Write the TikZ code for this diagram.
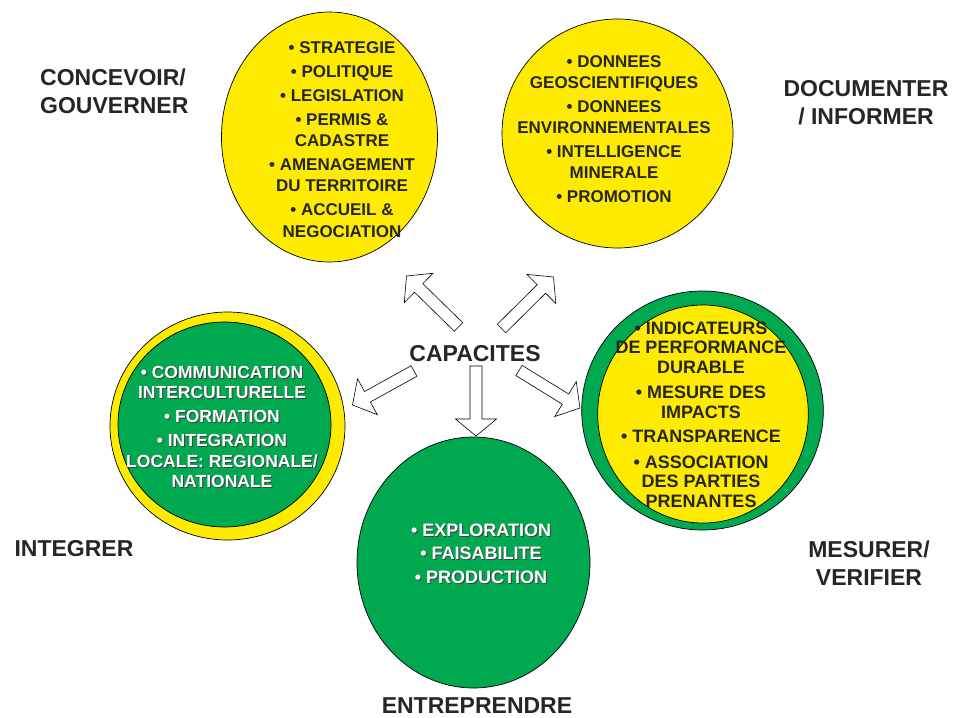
\documentclass[tikz,border=0pt]{standalone}
\usepackage{fontspec}
\setmainfont{Liberation Sans}
\usetikzlibrary{calc,shapes.geometric}

\definecolor{capyellow}{RGB}{255,235,0}
\definecolor{capgreen}{RGB}{0,168,80}
\definecolor{inkdark}{RGB}{38,38,38}

% block arrow dimensions
\def\bashaft{6pt}
\def\bahead{20.5pt}
\def\baheadlen{17pt}

% block arrow from a tail coordinate (#1) to a tip coordinate (#2)
\newcommand\blockarrow[2]{%
  \draw[arrowbox] let \p1=($(#2)-(#1)$), \n1={atan2(\y1,\x1)}, \n2={veclen(\x1,\y1)} in
    ($(#1)+(\n1+90:\bashaft)$) --
    ($(#1)+(\n1:{\n2-\baheadlen})+(\n1+90:\bashaft)$) --
    ($(#1)+(\n1:{\n2-\baheadlen})+(\n1+90:\bahead)$) --
    (#2) --
    ($(#1)+(\n1:{\n2-\baheadlen})+(\n1-90:\bahead)$) --
    ($(#1)+(\n1:{\n2-\baheadlen})+(\n1-90:\bashaft)$) --
    ($(#1)+(\n1-90:\bashaft)$) -- cycle;}

% white list text with a dark drop shadow
\newcommand\shadowlist[4]{%
  \node[#3, text=black!75] (#1-shadow) at ($(#2)+(1,1)$) {#4};
  \node[#3, text=white] (#1) at (#2) {#4};}

\begin{document}
\begin{tikzpicture}[x=1pt,y=-1pt,
  disc/.style={ellipse, draw=black, line width=0.7pt, inner sep=0pt, outer sep=0pt},
  ylwdisc/.style={disc, fill=capyellow},
  grndisc/.style={disc, fill=capgreen},
  arrowbox/.style={draw=black, fill=white, line width=0.6pt, line join=miter},
  title/.style={font=\fontsize{23}{28}\selectfont\bfseries, text=inkdark, inner sep=0pt, align=center},
  listtext/.style={inner sep=0pt, align=center},
  darklist/.style={listtext, text=inkdark}]

\useasboundingbox[fill=white] (0,0) rectangle (957,717);

% ---- circles ----
\node[ylwdisc, minimum width=216pt, minimum height=250pt] (gov) at (329.5,137) {};
\node[ylwdisc, minimum width=231pt, minimum height=229pt] (doc) at (617.5,133.5) {};
\node[ylwdisc, minimum width=235pt, minimum height=228pt] (intout) at (227.5,426) {};
\node[grndisc, minimum width=213pt, minimum height=205pt] (intin) at (224.5,424.5) {};
\node[grndisc, minimum width=241.6pt, minimum height=239pt] (mesout) at (702.5,410.5) {};
\node[ylwdisc, minimum width=210.6pt, minimum height=218pt] (mesin) at (703,414) {};
\node[grndisc, minimum width=233pt, minimum height=251pt] (ent) at (473.5,562.5) {};

% ---- circle contents ----
\node[darklist, font={\fontsize{17}{21.5}\selectfont\bfseries}] (govtext) at (342,139.5)
  {• STRATEGIE\\[2.3pt]
   • POLITIQUE\\[2.3pt]
   • LEGISLATION\\[2.3pt]
   • PERMIS \&\\ CADASTRE\\[2.3pt]
   • AMENAGEMENT\\ DU TERRITOIRE\\[2.3pt]
   • ACCUEIL \&\\ NEGOCIATION};

\node[darklist, font={\fontsize{17}{20.5}\selectfont\bfseries}] (doctext) at (614,129.5)
  {• DONNEES\\ GEOSCIENTIFIQUES\\[4pt]
   • DONNEES\\ ENVIRONNEMENTALES\\[4pt]
   • INTELLIGENCE\\ MINERALE\\[4pt]
   • PROMOTION};

\node[darklist, font={\fontsize{18}{19.5}\selectfont\bfseries}] (mestext) at (701,414.5)
  {• INDICATEURS\\ DE PERFORMANCE\\ DURABLE\\[6pt]
   • MESURE DES\\ IMPACTS\\[5pt]
   • TRANSPARENCE\\[6pt]
   • ASSOCIATION\\ DES PARTIES\\ PRENANTES};

\shadowlist{inttext}{222,427}{listtext, font={\fontsize{17.5}{20.5}\selectfont\bfseries}}
  {• COMMUNICATION\\ INTERCULTURELLE\\[3.5pt]
   • FORMATION\\[3.5pt]
   • INTEGRATION\\ LOCALE: REGIONALE/\\ NATIONALE}

\shadowlist{enttext}{481,553.5}{listtext, font={\fontsize{18}{23.5}\selectfont\bfseries}}
  {• EXPLORATION\\ • FAISABILITE\\ • PRODUCTION}

% ---- outer labels ----
\node[title, align=left, anchor=west] (lgov) at (40,91) {CONCEVOIR/\\GOUVERNER};
\node[title] (ldoc) at (866,103) {DOCUMENTER\\/ INFORMER};
\node[title] (lint) at (74,549) {INTEGRER};
\node[title] (lmes) at (869,563) {MESURER/\\VERIFIER};
\node[title] (lent) at (477,705.5) {ENTREPRENDRE};
\node[title] (cap) at (475,354) {CAPACITES};

% ---- block arrows from the centre ----
\coordinate (a1t) at (458.5,327);  \coordinate (a1h) at (406.5,276);
\coordinate (a2t) at (501.5,328.5); \coordinate (a2h) at (553.5,277);
\coordinate (a3t) at (414,371);    \coordinate (a3h) at (352.5,405);
\coordinate (a4t) at (476,366);    \coordinate (a4h) at (476,436);
\coordinate (a5t) at (519,370.5);  \coordinate (a5h) at (580,408);
\blockarrow{a1t}{a1h}
\blockarrow{a2t}{a2h}
\blockarrow{a3t}{a3h}
\blockarrow{a4t}{a4h}
\blockarrow{a5t}{a5h}
\end{tikzpicture}
\end{document}
